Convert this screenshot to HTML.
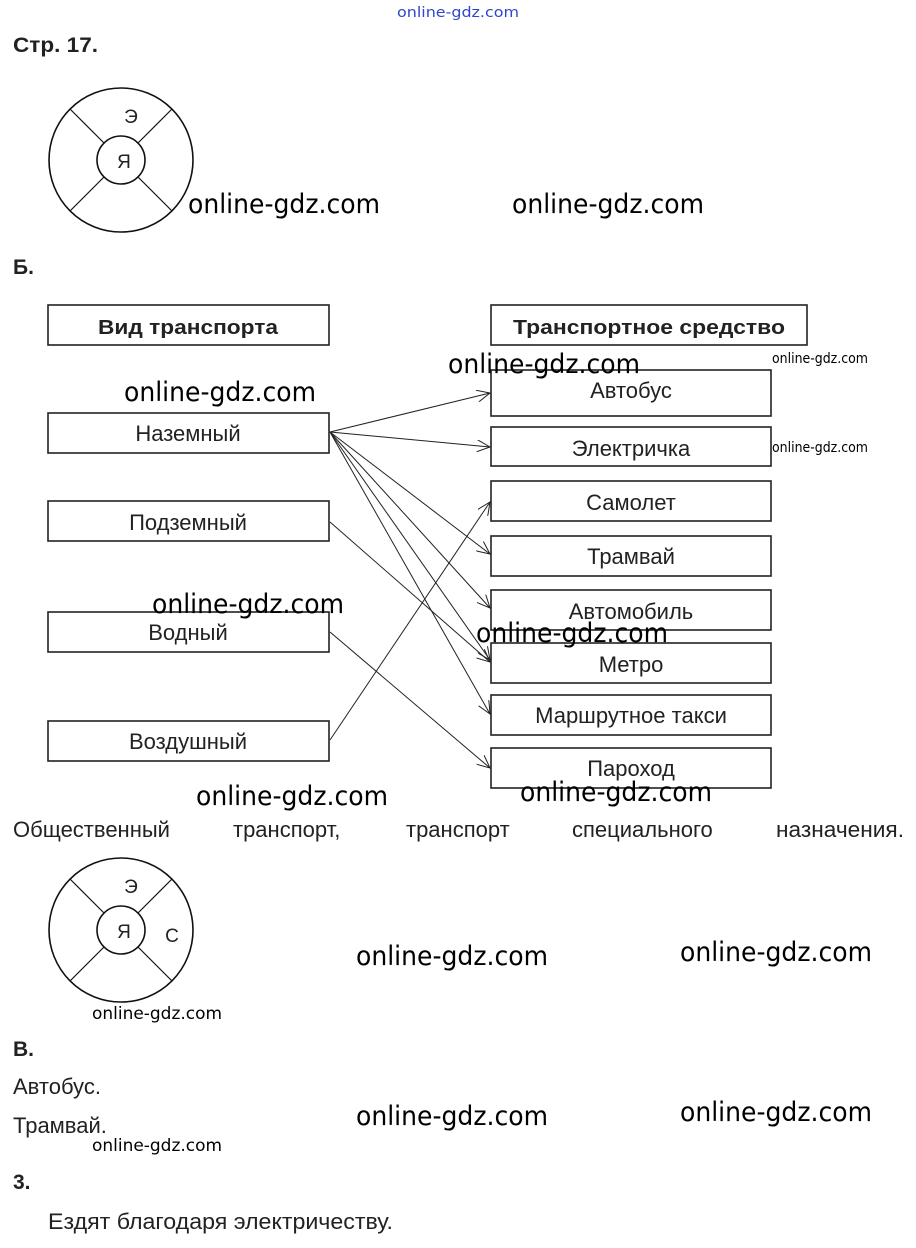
<!DOCTYPE html>
<html><head><meta charset="utf-8"><style>
html,body{margin:0;padding:0;background:#fff;}
svg{display:block;}
.t{font-family:"Liberation Sans",sans-serif;fill:#222;}
.w{font-family:"DejaVu Sans","Liberation Sans",sans-serif;fill:#000;}
</style></head><body>
<svg width="916" height="1248" viewBox="0 0 916 1248" xmlns="http://www.w3.org/2000/svg">
<defs><marker id="a" markerWidth="14" markerHeight="12" refX="13" refY="6" orient="auto" markerUnits="userSpaceOnUse"><path d="M0,0 L13,6 L0,12" fill="none" stroke="#222" stroke-width="1"/></marker></defs>
<text x="397" y="17" class="w" style="fill:#3344cc" font-size="14" textLength="122" lengthAdjust="spacingAndGlyphs">online-gdz.com</text>
<text x="13" y="52" class="t" font-size="21" font-weight="bold" textLength="85" lengthAdjust="spacingAndGlyphs">Стр. 17.</text>
<g fill="none" stroke="#111" stroke-width="1.6">
<circle cx="121" cy="160" r="72"/><circle cx="121" cy="160" r="24"/>
<path d="M70,109 L104,143 M172,109 L138,143 M70,211 L104,177 M172,211 L138,177" stroke-width="1.2"/>
<circle cx="121" cy="930" r="72"/><circle cx="121" cy="930" r="24"/>
<path d="M70,879 L104,913 M172,879 L138,913 M70,981 L104,947 M172,981 L138,947" stroke-width="1.2"/>
</g>
<text x="131" y="123" class="t" font-size="19" text-anchor="middle">Э</text>
<text x="124" y="168" class="t" font-size="19" text-anchor="middle">Я</text>
<text x="131" y="893" class="t" font-size="19" text-anchor="middle">Э</text>
<text x="124" y="938" class="t" font-size="19" text-anchor="middle">Я</text>
<text x="172" y="942" class="t" font-size="19" text-anchor="middle">С</text>
<text x="13" y="274" class="t" font-size="21" font-weight="bold">Б.</text>
<g fill="#fff" stroke="#222" stroke-width="1.6">
<rect x="48" y="305" width="281" height="40"/>
<rect x="48" y="413" width="281" height="40"/>
<rect x="48" y="501" width="281" height="40"/>
<rect x="48" y="612" width="281" height="40"/>
<rect x="48" y="721" width="281" height="40"/>
<rect x="491" y="305" width="316" height="40"/>
<rect x="491" y="370" width="280" height="46"/>
<rect x="491" y="427" width="280" height="39"/>
<rect x="491" y="481" width="280" height="40"/>
<rect x="491" y="536" width="280" height="40"/>
<rect x="491" y="590" width="280" height="40"/>
<rect x="491" y="643" width="280" height="40"/>
<rect x="491" y="695" width="280" height="40"/>
<rect x="491" y="748" width="280" height="40"/>
</g>
<g font-size="22" class="t" text-anchor="middle">
<text x="188" y="334" font-weight="bold" font-size="20" textLength="180" lengthAdjust="spacingAndGlyphs">Вид транспорта</text>
<text x="649" y="334" font-weight="bold" font-size="20" textLength="272" lengthAdjust="spacingAndGlyphs">Транспортное средство</text>
<text x="188" y="441">Наземный</text>
<text x="188" y="530">Подземный</text>
<text x="188" y="640">Водный</text>
<text x="188" y="749">Воздушный</text>
<text x="631" y="398">Автобус</text>
<text x="631" y="456">Электричка</text>
<text x="631" y="510">Самолет</text>
<text x="631" y="564">Трамвай</text>
<text x="631" y="619">Автомобиль</text>
<text x="631" y="672">Метро</text>
<text x="631" y="723">Маршрутное такси</text>
<text x="631" y="776">Пароход</text>
</g>
<g stroke="#222" stroke-width="1" marker-end="url(#a)">
<line x1="330" y1="432" x2="490" y2="393"/>
<line x1="330" y1="432" x2="490" y2="447"/>
<line x1="330" y1="432" x2="490" y2="554"/>
<line x1="330" y1="432" x2="490" y2="608"/>
<line x1="330" y1="432" x2="490" y2="660"/>
<line x1="330" y1="432" x2="490" y2="714"/>
<line x1="330" y1="522" x2="490" y2="662"/>
<line x1="330" y1="632" x2="490" y2="768"/>
<line x1="330" y1="740" x2="490" y2="502"/>
</g>
<g class="w" font-size="27">
<text x="188" y="213" textLength="192" lengthAdjust="spacingAndGlyphs">online-gdz.com</text>
<text x="512" y="213" textLength="192" lengthAdjust="spacingAndGlyphs">online-gdz.com</text>
<text x="448" y="373" textLength="192" lengthAdjust="spacingAndGlyphs">online-gdz.com</text>
<text x="124" y="401" textLength="192" lengthAdjust="spacingAndGlyphs">online-gdz.com</text>
<text x="152" y="613" textLength="192" lengthAdjust="spacingAndGlyphs">online-gdz.com</text>
<text x="476" y="642" textLength="192" lengthAdjust="spacingAndGlyphs">online-gdz.com</text>
<text x="196" y="805" textLength="192" lengthAdjust="spacingAndGlyphs">online-gdz.com</text>
<text x="520" y="801" textLength="192" lengthAdjust="spacingAndGlyphs">online-gdz.com</text>
<text x="356" y="965" textLength="192" lengthAdjust="spacingAndGlyphs">online-gdz.com</text>
<text x="680" y="961" textLength="192" lengthAdjust="spacingAndGlyphs">online-gdz.com</text>
<text x="356" y="1125" textLength="192" lengthAdjust="spacingAndGlyphs">online-gdz.com</text>
<text x="680" y="1121" textLength="192" lengthAdjust="spacingAndGlyphs">online-gdz.com</text>
</g>
<g class="w" font-size="14">
<text x="772" y="363" textLength="96" lengthAdjust="spacingAndGlyphs">online-gdz.com</text>
<text x="772" y="452" textLength="96" lengthAdjust="spacingAndGlyphs">online-gdz.com</text>
</g>
<g class="w" font-size="17">
<text x="92" y="1019" textLength="130" lengthAdjust="spacingAndGlyphs">online-gdz.com</text>
<text x="92" y="1151" textLength="130" lengthAdjust="spacingAndGlyphs">online-gdz.com</text>
</g>
<g class="t" font-size="22">
<text x="13" y="837">Общественный</text>
<text x="233" y="837">транспорт,</text>
<text x="406" y="837">транспорт</text>
<text x="572" y="837">специального</text>
<text x="776" y="837" textLength="128" lengthAdjust="spacingAndGlyphs">назначения.</text>
<text x="13" y="1056" font-weight="bold" font-size="21">В.</text>
<text x="13" y="1094">Автобус.</text>
<text x="13" y="1133">Трамвай.</text>
<text x="13" y="1189" font-weight="bold" font-size="21">3.</text>
<text x="48" y="1229" textLength="345" lengthAdjust="spacingAndGlyphs">Ездят благодаря электричеству.</text>
</g>
</svg>
</body></html>
